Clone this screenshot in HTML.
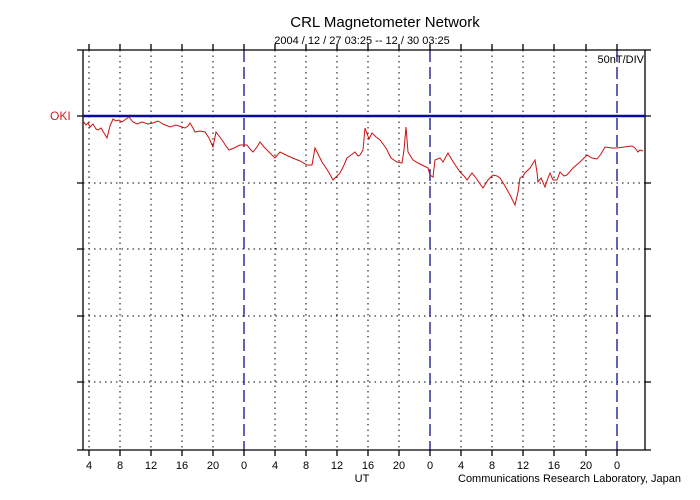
<!DOCTYPE html>
<html><head><style>body{margin:0;background:#fff}svg{display:block}text{font-family:"Liberation Sans",sans-serif}</style></head><body>
<svg width="700" height="500" xmlns="http://www.w3.org/2000/svg">
<text x="385" y="27" font-size="15" text-anchor="middle">CRL Magnetometer Network</text>
<text x="362" y="44" font-size="11" text-anchor="middle">2004 / 12 / 27   03:25 -- 12 / 30   03:25</text>
<g stroke="#000" stroke-dasharray="1.5,4" stroke-width="1">
<line x1="89" y1="50" x2="89" y2="450"/><line x1="120" y1="50" x2="120" y2="450"/><line x1="151" y1="50" x2="151" y2="450"/><line x1="182" y1="50" x2="182" y2="450"/><line x1="213" y1="50" x2="213" y2="450"/>
<line x1="275" y1="50" x2="275" y2="450"/><line x1="306" y1="50" x2="306" y2="450"/><line x1="337" y1="50" x2="337" y2="450"/><line x1="368" y1="50" x2="368" y2="450"/><line x1="399" y1="50" x2="399" y2="450"/>
<line x1="461" y1="50" x2="461" y2="450"/><line x1="492" y1="50" x2="492" y2="450"/><line x1="523" y1="50" x2="523" y2="450"/><line x1="554" y1="50" x2="554" y2="450"/><line x1="586" y1="50" x2="586" y2="450"/>
<line x1="83" y1="50" x2="645" y2="50"/><line x1="83" y1="183" x2="645" y2="183"/><line x1="83" y1="249" x2="645" y2="249"/><line x1="83" y1="316" x2="645" y2="316"/><line x1="83" y1="382" x2="645" y2="382"/>
</g>
<g stroke="#10108a" stroke-width="1.3" stroke-dasharray="12,5">
<line x1="244" y1="50" x2="244" y2="450"/><line x1="430" y1="50" x2="430" y2="450"/><line x1="617" y1="50" x2="617" y2="450"/>
</g>
<g stroke="#000" stroke-width="1.3" fill="none">
<line x1="83" y1="50" x2="83" y2="450"/><line x1="645" y1="50" x2="645" y2="450"/>
<line x1="77" y1="450" x2="651" y2="450"/><line x1="77" y1="50" x2="651" y2="50"/>
<path d="M77 116H83M77 183H83M77 249H83M77 316H83M77 382H83M645 116H651M645 183H651M645 249H651M645 316H651M645 382H651"/>
<path d="M89 44V50M120 44V50M151 44V50M182 44V50M213 44V50M244 44V50M275 44V50M306 44V50M337 44V50M368 44V50M399 44V50M430 44V50M461 44V50M492 44V50M523 44V50M554 44V50M586 44V50M617 44V50"/>
<path d="M89 450V456M120 450V456M151 450V456M182 450V456M213 450V456M244 450V456M275 450V456M306 450V456M337 450V456M368 450V456M399 450V456M430 450V456M461 450V456M492 450V456M523 450V456M554 450V456M586 450V456M617 450V456"/>
</g>
<line x1="83" y1="116" x2="645" y2="116" stroke="#0a0aa0" stroke-width="2.5"/>
<text x="50" y="120" font-size="12" fill="#cc2222">OKI</text>
<text x="644" y="63" font-size="11" text-anchor="end">50nT/DIV</text>
<polyline fill="none" stroke="#cc1111" stroke-width="1" points="83,121 86,125 88,123 90,127 93,124 96,129 98,130 101,128 104,133 107,138 110,126 113,119 116,121 119,120 122,122 126,119 129,117 133,122 137,124 142,122 148,124 153,123 158,121 163,124 170,127 176,125 182,127 185,128 188,126 190,123 193,128 195,132 200,131 205,132 209,138 213,147 216,132 219,136 222,140 226,146 229,150 234,148 240,145 247,145 250,149 253,152 257,147 260,142 264,147 268,151 275,158 280,152 288,156 295,159 300,161 307,165 312,165 315,148 318,154 322,162 328,171 333,180 337,176 340,173 344,165 347,158 351,155 355,152 358,156 360,155 363,150 365,128 369,139 372,133 376,137 380,140 386,148 391,158 397,162 402,163 404,150 406,127 408,152 413,160 418,163 422,165 428,168 430,175 433,177 435,160 440,158 443,162 448,153 452,160 456,166 460,172 464,176 467,180 472,173 476,178 480,184 483,188 488,180 493,175 497,176 500,178 505,186 510,195 515,205 518,192 520,178 523,176 525,173 530,168 535,160 537,172 538,182 541,178 545,187 548,178 550,173 553,180 557,180 560,172 564,176 567,175 573,168 580,162 587,155 592,158 597,159 601,154 605,147 612,148 617,148 624,147 632,146 635,148 638,152 640,150 643,151"/>
<g font-size="11" text-anchor="middle">
<text x="89" y="469">4</text><text x="120" y="469">8</text><text x="151" y="469">12</text><text x="182" y="469">16</text><text x="213" y="469">20</text><text x="244" y="469">0</text>
<text x="275" y="469">4</text><text x="306" y="469">8</text><text x="337" y="469">12</text><text x="368" y="469">16</text><text x="399" y="469">20</text><text x="430" y="469">0</text>
<text x="461" y="469">4</text><text x="492" y="469">8</text><text x="523" y="469">12</text><text x="554" y="469">16</text><text x="586" y="469">20</text><text x="617" y="469">0</text>
<text x="362" y="482">UT</text>
</g>
<text x="458" y="482" font-size="11">Communications Research Laboratory, Japan</text>
</svg>
</body></html>
